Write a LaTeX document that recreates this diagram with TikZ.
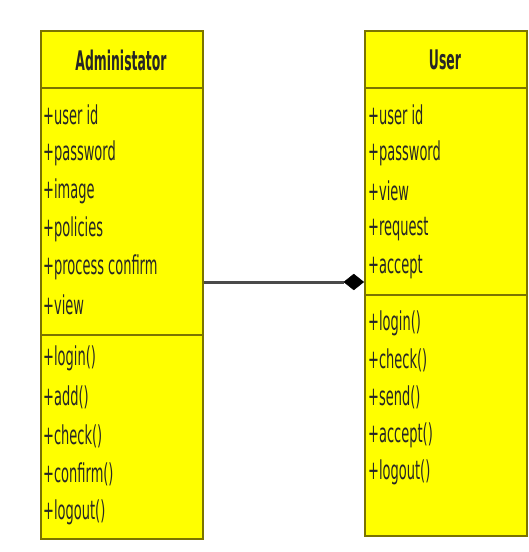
\documentclass[tikz,border=0pt]{standalone}
\usepackage{fontspec}
\newfontfamily\narrowf[FakeStretch=0.50]{DejaVu Sans}
\newfontfamily\narrowtitle[FakeStretch=0.46]{DejaVu Sans}
\usetikzlibrary{shapes.geometric}
\definecolor{umlfill}{HTML}{FFFF00}
\definecolor{umlline}{HTML}{7A7400}
\definecolor{linkgray}{HTML}{4A4A4A}
\tikzset{
  classbox/.style={draw=umlline, line width=1.6pt, fill=umlfill, rectangle, inner sep=0pt, anchor=north west},
  sepline/.style={draw=umlline, line width=1.6pt},
  member/.style={anchor=west, inner sep=0pt, font=\narrowf\fontsize{26}{28}\selectfont, text=black!85},
  title/.style={inner sep=0pt, font=\narrowtitle\bfseries\fontsize{27}{29}\selectfont, text=black!85},
  link/.style={draw=linkgray, line width=3pt},
  compdiamond/.style={diamond, fill=black, draw=black, inner sep=0pt, minimum width=20pt, minimum height=16pt, aspect=1.25}
}
\begin{document}
\begin{tikzpicture}[x=1pt,y=-1pt]
\useasboundingbox (0,0) rectangle (529,552);
\fill[white] (0,0) rectangle (529,552);
% Administator class
\node[classbox, minimum width=162pt, minimum height=508pt] (admin) at (40,30) {};
\draw[sepline] (40,88) -- (202,88);
\draw[sepline] (40,335) -- (202,335);
\node[title] (admint) at (121,60) {Administator};
\node[member] (a1) at (43,115) {+user id};
\node[member] (a2) at (43,153) {+password};
\node[member] (a3) at (43,191) {+image};
\node[member] (a4) at (43,229) {+policies};
\node[member] (a5) at (43,267) {+process confirm};
\node[member] (a6) at (43,305) {+view};
\node[member] (m1) at (43,358) {+login()};
\node[member] (m2) at (43,397) {+add()};
\node[member] (m3) at (43,436) {+check()};
\node[member] (m4) at (43,474) {+confirm()};
\node[member] (m5) at (43,512) {+logout()};
% User class
\node[classbox, minimum width=162pt, minimum height=505pt] (user) at (364,30) {};
\draw[sepline] (364,88) -- (526,88);
\draw[sepline] (364,295) -- (526,295);
\node[title] (usert) at (445,60) {User};
\node[member] (u1) at (368,115) {+user id};
\node[member] (u2) at (368,153) {+password};
\node[member] (u3) at (368,191) {+view};
\node[member] (u4) at (368,229) {+request};
\node[member] (u5) at (368,267) {+accept};
\node[member] (n1) at (368,323) {+login()};
\node[member] (n2) at (368,360) {+check()};
\node[member] (n3) at (368,397) {+send()};
\node[member] (n4) at (368,435) {+accept()};
\node[member] (n5) at (368,472) {+logout()};
% composition
\coordinate (lstart) at (admin.east |- 0,282);
\node[compdiamond, anchor=east] (dia) at (user.west |- 0,282) {};
\draw[link] (lstart) -- (dia.west);
\end{tikzpicture}
\end{document}
